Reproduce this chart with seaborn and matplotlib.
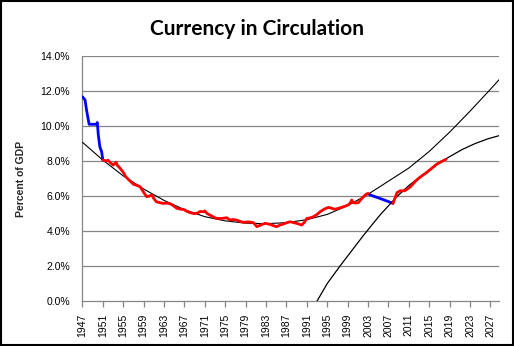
import numpy as np
import pandas as pd
import matplotlib
matplotlib.use("Agg")
import matplotlib.pyplot as plt
import seaborn as sns
from matplotlib.patches import Rectangle
from matplotlib.ticker import FuncFormatter

# ---- data (percent of GDP) ----
blue1_years = [1947.0, 1947.5, 1947.8, 1948.3, 1949.7, 1949.9, 1950.1, 1950.4, 1950.75, 1951.0]
blue1_vals = [11.67, 11.49, 10.9, 10.1, 10.1, 10.2, 9.49, 8.82, 8.53, 8.06]

red1_years = [1951.0, 1951.7, 1952.0, 1952.4, 1953.0, 1953.6, 1953.8, 1954.4, 1955.0, 1955.5,
              1956.0, 1957.0, 1957.6, 1958.3, 1959.0, 1959.6, 1960.1, 1960.6, 1961.0, 1961.5,
              1962.2, 1962.8, 1963.5, 1964.2, 1964.8, 1965.5, 1966.2, 1966.8, 1967.5, 1968.1,
              1968.8, 1969.4, 1970.1, 1970.7, 1971.0, 1971.4, 1972.0, 1972.7, 1973.3, 1974.3,
              1975.3, 1975.9, 1976.5, 1977.2, 1977.9, 1978.5, 1979.5, 1980.5, 1981.2, 1982.0,
              1982.8, 1983.8, 1984.5, 1985.1, 1985.7, 1986.4, 1987.1, 1987.7, 1988.4, 1989.0,
              1990.0, 1990.5, 1991.0, 1991.6, 1992.3, 1993.0, 1993.6, 1994.4, 1995.2, 1995.9,
              1996.5, 1997.2, 1997.8, 1998.5, 1999.1, 1999.5, 1999.8, 2000.1, 2000.6, 2001.1,
              2001.6, 2002.1, 2002.6, 2003.0]
red1_vals = [8.06, 8.0, 8.05, 7.92, 7.77, 7.93, 7.77, 7.58, 7.35, 7.1,
             6.95, 6.67, 6.62, 6.53, 6.21, 5.96, 6.0, 6.06, 5.85, 5.67,
             5.62, 5.58, 5.6, 5.56, 5.45, 5.3, 5.25, 5.24, 5.12, 5.05,
             5.0, 5.01, 5.12, 5.1, 5.15, 5.01, 4.91, 4.8, 4.72, 4.72,
             4.76, 4.63, 4.66, 4.63, 4.55, 4.5, 4.52, 4.48, 4.25, 4.35,
             4.44, 4.38, 4.3, 4.25, 4.34, 4.4, 4.48, 4.53, 4.48, 4.44,
             4.34, 4.5, 4.72, 4.75, 4.82, 4.95, 5.1, 5.25, 5.35, 5.3,
             5.24, 5.3, 5.35, 5.42, 5.49, 5.6, 5.77, 5.62, 5.6, 5.62,
             5.8, 5.96, 6.1, 6.15]

blue2_years = [2003.0, 2003.8, 2004.7, 2006.3, 2007.9]
blue2_vals = [6.12, 6.02, 5.93, 5.76, 5.58]

red2_years = [2007.9, 2008.3, 2008.7, 2009.3, 2010.2, 2010.7, 2011.2, 2011.7, 2012.2, 2012.8,
              2013.5, 2014.3, 2015.1, 2015.8, 2016.5, 2017.4, 2018.3]
red2_vals = [5.58, 5.9, 6.2, 6.3, 6.3, 6.4, 6.5, 6.65, 6.82, 6.98,
             7.14, 7.3, 7.49, 7.66, 7.83, 7.97, 8.1]

trend_u_years = [1947, 1951, 1955, 1959, 1963, 1967, 1971, 1975, 1979, 1983, 1987,
                 1991, 1995, 1999, 2003, 2007, 2011, 2015, 2019, 2023, 2027, 2028.7]
trend_u_vals = [9.07, 8.05, 7.15, 6.4, 5.75, 5.22, 4.82, 4.58, 4.45, 4.42, 4.48,
                4.65, 4.95, 5.45, 6.1, 6.85, 7.6, 8.55, 9.65, 10.85, 12.1, 12.65]

trend_r_years = [1993.0, 1995.0, 1997.5, 2000.0, 2002.1, 2005.3, 2008.6, 2011.0, 2015.0,
                 2018.4, 2021.4, 2024.0, 2026.5, 2028.7]
trend_r_vals = [0.0, 1.0, 2.0, 2.95, 3.75, 4.9, 5.95, 6.6, 7.5,
                8.15, 8.65, 9.0, 9.27, 9.45]

tick_years = list(range(1947, 2028, 4))
y_ticks = [0, 2, 4, 6, 8, 10, 12, 14]

# ---- plot ----
sns.set_style("white")
plt.rcParams['font.family'] = ['Liberation Sans', 'DejaVu Sans']

fig = plt.figure(figsize=(5.14, 3.46), dpi=100)
ax = fig.add_axes([0.1605, 0.130, 0.8105, 0.708])

grid_c = "#868686"
for yv in y_ticks[1:]:
    ax.axhline(yv, color=grid_c, lw=0.9, zorder=1)

def draw(xs, ys, color, lw, z):
    df = pd.DataFrame({"year": xs, "pct": ys})
    sns.lineplot(data=df, x="year", y="pct", ax=ax, color=color, linewidth=lw,
                 estimator=None, sort=False, zorder=z)

draw(blue1_years, blue1_vals, "#0000FF", 2.0, 3)
draw(blue2_years, blue2_vals, "#0000FF", 2.0, 3)
draw(trend_u_years, trend_u_vals, "black", 0.8, 4)
draw(trend_r_years, trend_r_vals, "black", 0.9, 4)
draw(red1_years, red1_vals, "#FF0000", 2.0, 5)
draw(red2_years, red2_vals, "#FF0000", 2.0, 5)

ax.set_xlim(1947, 2028.7)
ax.set_ylim(0, 14)
ax.set_yticks(y_ticks)
ax.yaxis.set_major_formatter(FuncFormatter(lambda v, p: f"{v:.1f}%"))
ax.set_xticks(tick_years)
ax.set_xticklabels([str(t) for t in tick_years], rotation=90)
ax.tick_params(axis='y', length=0, pad=9, labelsize=7.5, colors='black')
ax.tick_params(axis='x', length=4, width=0.9, color=grid_c, pad=5, labelsize=7.5,
               labelcolor='black', direction='out', bottom=True)
ax.set_xlabel("")
ax.set_ylabel("Percent of GDP", fontsize=7.5, fontweight='bold', labelpad=10)

for s in ["top", "right"]:
    ax.spines[s].set_visible(False)
for s in ["left", "bottom"]:
    ax.spines[s].set_color(grid_c)
    ax.spines[s].set_linewidth(0.9)

fig.text(0.5, 0.915, "Currency in Circulation", ha='center', va='center',
         fontsize=15, fontweight='bold', color='black', family=['Lato', 'DejaVu Sans'])

fig.patches.append(Rectangle((0.0015, 0.002), 0.996, 0.995, transform=fig.transFigure,
                             fill=False, edgecolor='black', lw=1.5))

fig.savefig("out.png", dpi=100)
